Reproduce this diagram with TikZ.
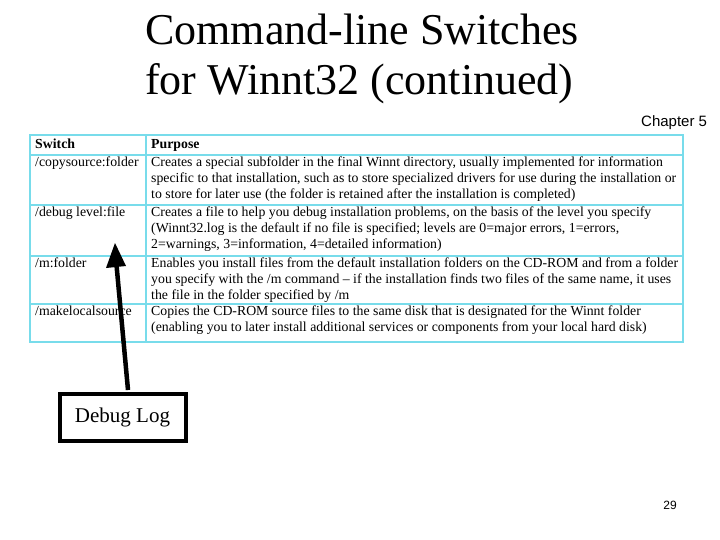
\documentclass[tikz,border=0pt]{standalone}
\usepackage{fontspec}
\setmainfont{Liberation Serif}
\newfontfamily\arialf{Liberation Sans}
\begin{document}
\begin{tikzpicture}[x=1pt,y=-1pt,
  cell/.style={anchor=north west,inner sep=0pt,font=\fontsize{13.8}{16}\selectfont,align=left},
  grid/.style={draw={rgb,255:red,120;green,220;blue,235},line width=2.5pt},
  title/.style={anchor=north west,inner sep=0pt,font=\fontsize{44}{48}\selectfont,align=left}]
\useasboundingbox (0,0) rectangle (720,540);
\node[title] (t1) at (145,14) {Command-line Switches};
\node[title] (t2) at (145,63) {for Winnt32 (continued)};
\node[anchor=west,inner sep=0pt,font=\arialf\fontsize{15}{18}\selectfont] (ch) at (641,123) {Chapter 5};
% table
\draw[grid] (30,135) rectangle (683,342);
\foreach \yy in {155,205,256,304} \draw[grid] (30,\yy) -- (683,\yy);
\draw[grid] (146,135) -- (146,342);
\node[cell,font=\bfseries\fontsize{13.8}{16}\selectfont] (h1) at (35,139) {Switch};
\node[cell,font=\bfseries\fontsize{13.8}{16}\selectfont] (h2) at (151,139) {Purpose};
\node[cell] (s1) at (35,157) {/copysource:folder};
\node[cell] (p1) at (151,157) {Creates a special subfolder in the final Winnt directory, usually implemented for information\\specific to that installation, such as to store specialized drivers for use during the installation or\\to store for later use (the folder is retained after the installation is completed)};
\node[cell] (s2) at (35,207) {/debug level:file};
\node[cell] (p2) at (151,207) {Creates a file to help you debug installation problems, on the basis of the level you specify\\(Winnt32.log is the default if no file is specified; levels are 0=major errors, 1=errors,\\2=warnings, 3=information, 4=detailed information)};
\node[cell] (s3) at (35,258) {/m:folder};
\node[cell] (p3) at (151,258) {Enables you install files from the default installation folders on the CD-ROM and from a folder\\you specify with the /m command -- if the installation finds two files of the same name, it uses\\the file in the folder specified by /m};
\node[cell] (s4) at (35,306) {/makelocalsource};
\node[cell] (p4) at (151,306) {Copies the CD-ROM source files to the same disk that is designated for the Winnt folder\\(enabling you to later install additional services or components from your local hard disk)};
% callout
\node[draw=black,line width=4pt,fill=white,minimum width=126pt,minimum height=47pt,inner sep=0pt,font=\fontsize{21}{24}\selectfont] (dl) at (122.5,417.5) {Debug Log};
\coordinate (tip) at (115,243);
\draw[line width=4.5pt] (dl.north) ++(5.5,-2) -- (116.5,265);
\fill (tip) -- (106,268) -- (126,266) -- cycle;
\node[inner sep=0pt,font=\arialf\fontsize{12}{14}\selectfont] (pg) at (670,505) {29};
\end{tikzpicture}
\end{document}
